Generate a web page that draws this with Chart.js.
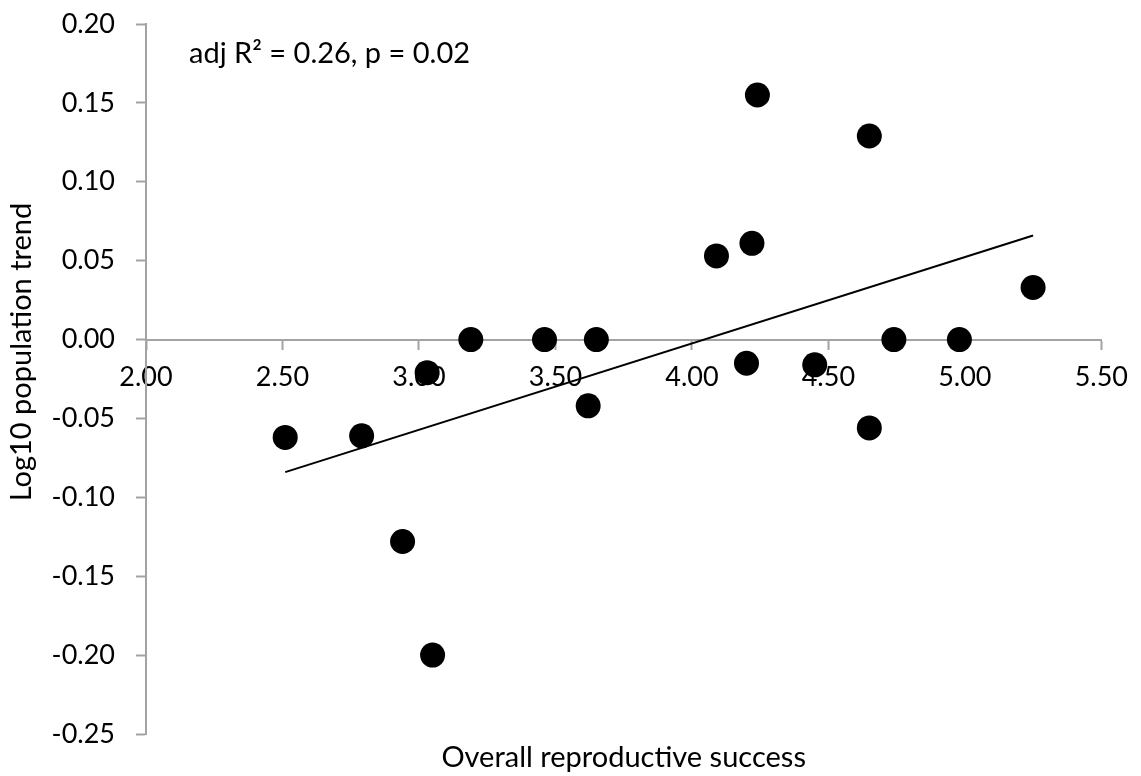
<!DOCTYPE html>
<html>
<head>
<meta charset="utf-8">
<script src="https://cdn.jsdelivr.net/npm/chart.js@4.4.1/dist/chart.umd.min.js"></script>
<style>
    html, body { margin: 0; padding: 0; background: #fff; }
    #wrap { width: 1141px; height: 776px; position: relative; }
</style>
</head>
<body>
<div id="wrap"><canvas id="scatterChart"></canvas></div>
<script>
// values
const reproSuccess = [2.51, 2.79, 2.94, 3.03, 3.05, 3.19, 3.46, 3.62, 3.65, 4.09,
                      4.20, 4.22, 4.24, 4.45, 4.65, 4.65, 4.74, 4.98, 5.25];
const popTrend = [-0.062, -0.061, -0.128, -0.021, -0.200, 0.000, 0.000, -0.042, 0.000, 0.053,
                  -0.015, 0.061, 0.155, -0.016, 0.129, -0.056, 0.000, 0.000, 0.033];

// linear fit shown in the figure (end points)
const trendX = [2.51, 5.25];
const trendY = [-0.084, 0.066];

const xTitle = 'Overall reproductive success';
const yTitle = 'Log10 population trend';
const statsNote = 'adj R\u00B2 = 0.26, p = 0.02';

const FONT = 'Lato, "Open Sans", sans-serif';
const AXIS_GREY = '#a3a3a3';

const points = reproSuccess.map((x, i) => ({ x, y: popTrend[i] }));
const trend = trendX.map((x, i) => ({ x, y: trendY[i] }));

const fmt = v => (Math.abs(v) < 1e-9 ? 0 : v).toFixed(2);

// axis titles and the stats note, placed like the original
const textPlugin = {
    id: 'chartTexts',
    afterDraw(chart) {
        const ctx = chart.ctx;
        const area = chart.chartArea;
        ctx.save();
        ctx.fillStyle = '#000';
        ctx.font = '29px ' + FONT;

        ctx.textAlign = 'left';
        ctx.textBaseline = 'alphabetic';
        ctx.fillText(statsNote, 189, 63);

        ctx.textAlign = 'center';
        ctx.fillText(xTitle, (area.left + area.right) / 2, 767);

        ctx.translate(31, 352);
        ctx.rotate(-Math.PI / 2);
        ctx.fillText(yTitle, 0, 0);
        ctx.restore();
    }
};

new Chart(document.getElementById('scatterChart'), {
    type: 'scatter',
    data: {
        datasets: [
            {
                label: 'Trend',
                type: 'line',
                data: trend,
                borderColor: '#000',
                borderWidth: 2,
                pointRadius: 0,
                fill: false,
                tension: 0
            },
            {
                label: 'Species',
                data: points,
                backgroundColor: '#000',
                borderColor: '#000',
                borderWidth: 0,
                pointRadius: 12.5,
                pointHoverRadius: 12.5
            }
        ]
    },
    options: {
        responsive: true,
        maintainAspectRatio: false,
        animation: false,
        events: [],
        layout: {
            padding: { top: 24, right: 37, bottom: 42, left: 0 }
        },
        plugins: {
            legend: { display: false },
            tooltip: { enabled: false }
        },
        scales: {
            x: {
                type: 'linear',
                position: { y: 0 },
                min: 2,
                max: 5.5,
                grid: {
                    drawOnChartArea: false,
                    drawTicks: true,
                    tickLength: 9,
                    tickWidth: 2,
                    tickColor: AXIS_GREY
                },
                border: { display: true, color: AXIS_GREY, width: 2 },
                ticks: {
                    stepSize: 0.5,
                    padding: 13,
                    maxRotation: 0,
                    autoSkip: false,
                    color: '#000',
                    font: { family: FONT, size: 27 },
                    callback: v => fmt(v)
                }
            },
            y: {
                type: 'linear',
                position: 'left',
                min: -0.25,
                max: 0.20,
                afterFit: scale => {
                    scale.width = 146;
                    // keep the label overhang from pushing the plot area around
                    scale.paddingTop = 0;
                    scale.paddingBottom = 0;
                },
                grid: {
                    drawOnChartArea: false,
                    drawTicks: true,
                    tickLength: 10,
                    tickWidth: 2,
                    tickColor: AXIS_GREY
                },
                border: { display: true, color: AXIS_GREY, width: 2 },
                ticks: {
                    stepSize: 0.05,
                    padding: 21,
                    autoSkip: false,
                    color: '#000',
                    font: { family: FONT, size: 27 },
                    callback: v => fmt(v)
                }
            }
        }
    },
    plugins: [textPlugin]
});
</script>
</body>
</html>
